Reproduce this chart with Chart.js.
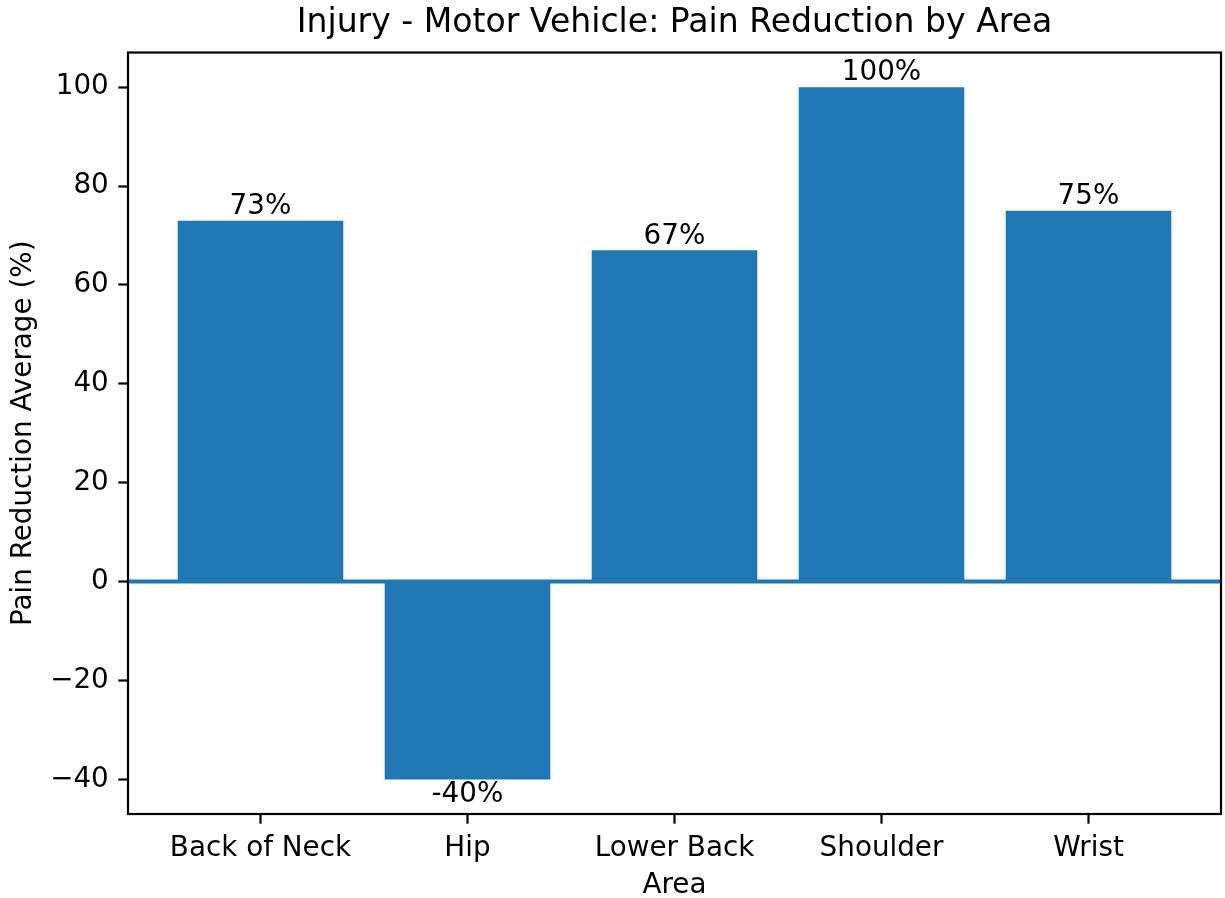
<!DOCTYPE html>
<html>
<head>
<meta charset="utf-8">
<script src="https://cdn.jsdelivr.net/npm/chart.js@4/dist/chart.umd.min.js"></script>
<style>
  html, body { margin: 0; padding: 0; background: #fff; }
</style>
</head>
<body>
<canvas id="graph" width="1225" height="898"></canvas>
<script>
// donnees du graphe
const areas = ["Back of Neck", "Hip", "Lower Back", "Shoulder", "Wrist"];
const reduction = [73, -40, 67, 100, 75];
const yTicks = [-40, -20, 0, 20, 40, 60, 80, 100];
const barLabels = ["73%", "-40%", "67%", "100%", "75%"];

const blue = "#1f77b4";
const font = "DejaVu Sans";
const fs = 27.8;

// ligne horizontale a zero + etiquettes des barres + cadre
const extras = {
  id: "extras",
  afterDatasetsDraw(chart) {
    const ctx = chart.ctx;
    const a = chart.chartArea;
    const y0 = chart.scales.y.getPixelForValue(0);
    ctx.save();
    ctx.strokeStyle = blue;
    ctx.lineWidth = 4;
    ctx.beginPath();
    ctx.moveTo(a.left, y0);
    ctx.lineTo(a.right, y0);
    ctx.stroke();

    ctx.fillStyle = "#000";
    ctx.font = fs + "px '" + font + "'";
    ctx.textAlign = "center";
    ctx.textBaseline = "alphabetic";
    chart.getDatasetMeta(0).data.forEach((bar, i) => {
      const v = reduction[i];
      const y = v >= 0 ? bar.y - 6.7 : bar.y + 22.4;
      ctx.fillText(barLabels[i], bar.x, y);
    });

    ctx.strokeStyle = "#000";
    ctx.lineWidth = 2.2;
    ctx.strokeRect(a.left, a.top, a.right - a.left, a.bottom - a.top);
    ctx.restore();
  },
};

const myChart = new Chart(document.getElementById("graph"), {
  type: "bar",
  data: {
    datasets: [
      {
        data: reduction.map((v, i) => ({ x: i, y: v })),
        backgroundColor: blue,
        borderWidth: 0,
        barPercentage: 0.8,
        categoryPercentage: 1.0,
      },
    ],
  },
  options: {
    responsive: false,
    animation: false,
    devicePixelRatio: 1,
    layout: { padding: { left: 0, right: 4, top: 0, bottom: 0 } },
    plugins: {
      legend: { display: false },
      tooltip: { enabled: false },
      title: {
        display: true,
        fullSize: false, // centre au-dessus de la zone du graphe
        text: "Injury - Motor Vehicle: Pain Reduction by Area",
        color: "#000",
        font: { family: font, size: 33.1, weight: "normal", lineHeight: 1.2 },
        padding: { top: 3.6, bottom: 9.2 },
      },
    },
    scales: {
      x: {
        type: "linear",
        min: -0.64,
        max: 4.64,
        offset: false,
        afterBuildTicks: (s) => {
          s.ticks = areas.map((_, i) => ({ value: i }));
        },
        afterFit: (s) => {
          s.height = 84;
        },
        ticks: {
          autoSkip: false,
          maxRotation: 0,
          color: "#000",
          padding: 8,
          font: { family: font, size: fs },
          callback: (v) => areas[v],
        },
        grid: {
          offset: false,
          drawOnChartArea: false,
          drawTicks: true,
          tickLength: 9.7,
          tickColor: "#000",
          tickWidth: 2.2,
        },
        border: { display: false },
        title: {
          display: true,
          text: "Area",
          color: "#000",
          font: { family: font, size: fs, lineHeight: 0.9 },
          padding: { top: 0, bottom: 0 },
        },
      },
      y: {
        min: -47,
        max: 107,
        afterBuildTicks: (s) => {
          s.ticks = yTicks.map((v) => ({ value: v }));
        },
        afterFit: (s) => {
          s.width = 128;
        },
        ticks: {
          color: "#000",
          padding: 9.5,
          font: { family: font, size: fs },
          callback: (v) => (v < 0 ? "\u2212" + Math.abs(v) : String(v)),
        },
        grid: {
          drawOnChartArea: false,
          drawTicks: true,
          tickLength: 9.7,
          tickColor: "#000",
          tickWidth: 2.2,
        },
        border: { display: false },
        title: {
          display: true,
          text: "Pain Reduction Average (%)",
          color: "#000",
          font: { family: font, size: fs, lineHeight: 1.2 },
          padding: { top: 6.7, bottom: 0 },
        },
      },
    },
  },
  plugins: [extras],
});
</script>
</body>
</html>
